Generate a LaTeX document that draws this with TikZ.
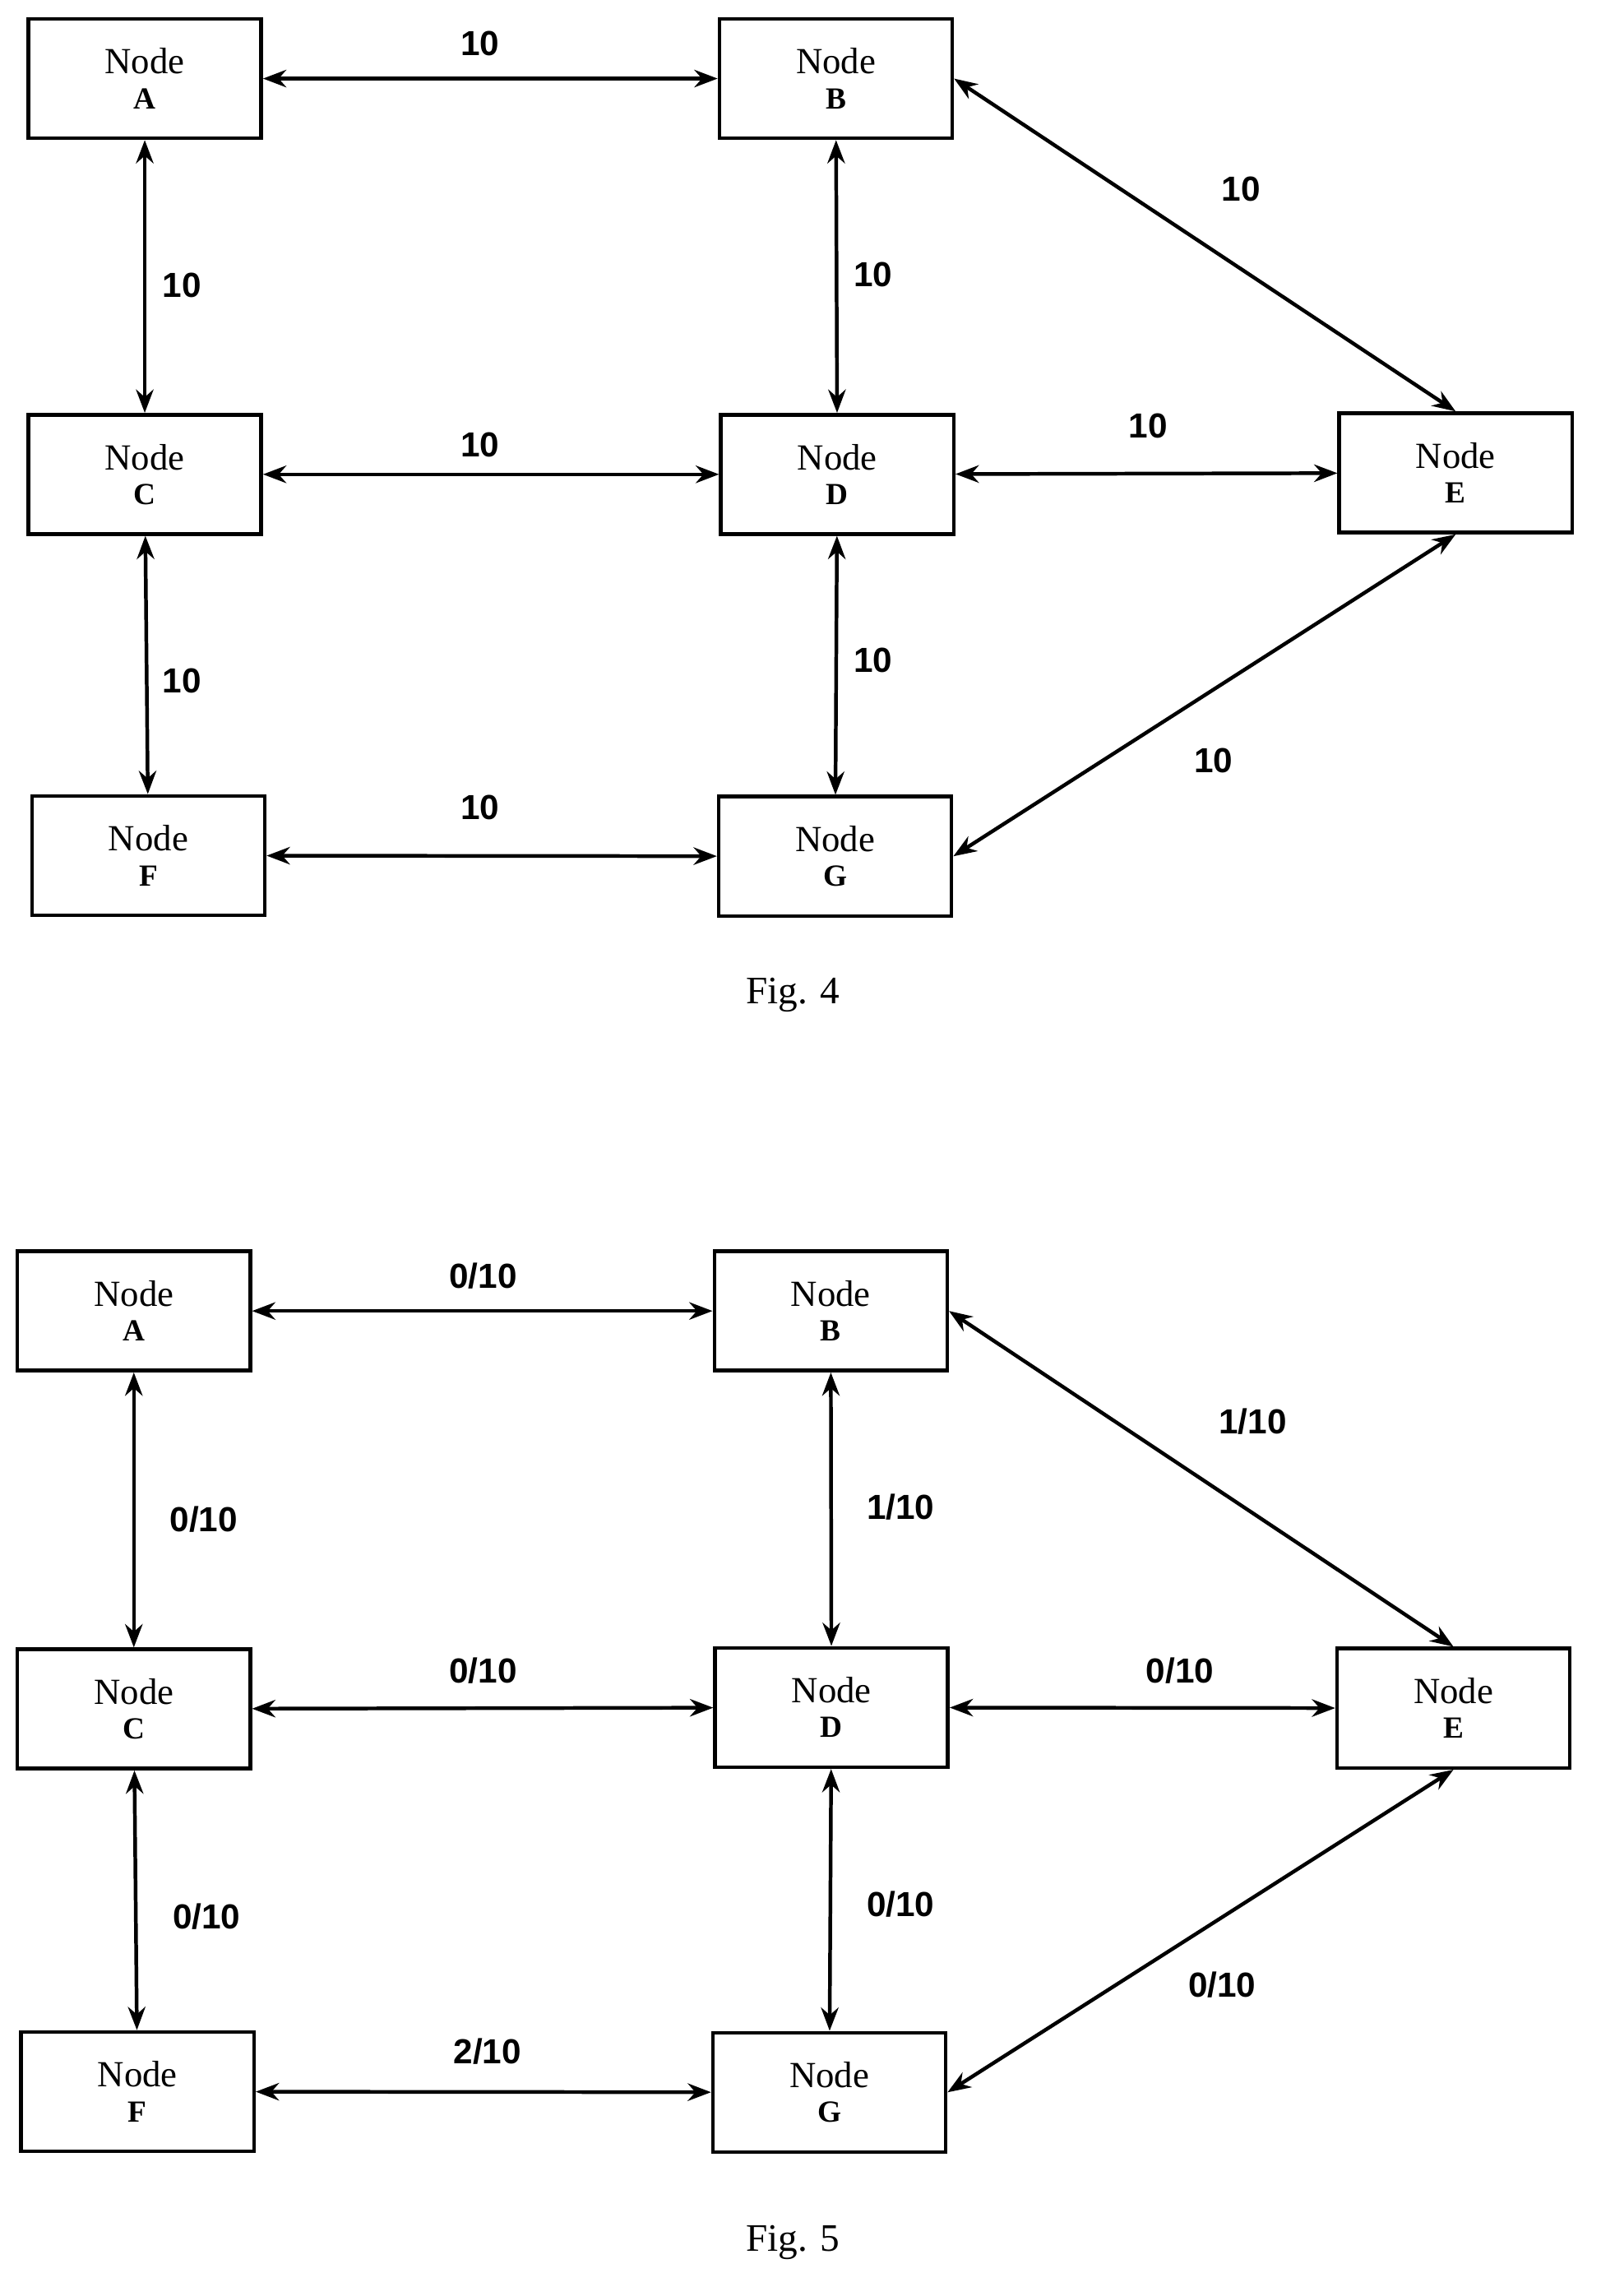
\documentclass[tikz,border=0pt]{standalone}
\usepackage{fontspec}
\setmainfont{Liberation Serif}
\newfontfamily\lblfont{Liberation Sans}
\usetikzlibrary{arrows.meta,positioning}

\begin{document}
\begin{tikzpicture}[
    x=0.05cm, y=-0.05cm,
    box/.style={draw, line width=3.6pt, minimum width=8cm, minimum height=4.1cm, align=center, inner sep=0pt, font=\fontsize{36}{38}\selectfont},
    arr/.style={{Stealth[length=8mm,width=6mm]}-{Stealth[length=8mm,width=6mm]}, line width=3.6pt},
    lbl/.style={font=\lblfont\bfseries\fontsize{34}{36}\selectfont},
    figcap/.style={font=\fontsize{38}{40}\selectfont},
]
\useasboundingbox (0,0) rectangle (1100,1578);

% Fig. 4
\node[box] (a4) at (99.5,54) {Node\\[-4pt]{\fontsize{30}{30}\selectfont\bfseries A}};
\node[box] (b4) at (574.5,54) {Node\\[-4pt]{\fontsize{30}{30}\selectfont\bfseries B}};
\node[box] (c4) at (99.5,326) {Node\\[-4pt]{\fontsize{30}{30}\selectfont\bfseries C}};
\node[box] (d4) at (575.5,326) {Node\\[-4pt]{\fontsize{30}{30}\selectfont\bfseries D}};
\node[box] (e4) at (1000.5,325) {Node\\[-4pt]{\fontsize{30}{30}\selectfont\bfseries E}};
\node[box] (f4) at (102,588) {Node\\[-4pt]{\fontsize{30}{30}\selectfont\bfseries F}};
\node[box] (g4) at (574,588.5) {Node\\[-4pt]{\fontsize{30}{30}\selectfont\bfseries G}};

\draw[arr] (a4) -- (b4);
\draw[arr] (a4) -- (c4);
\draw[arr] (b4) -- (d4);
\draw[arr] (b4.east) -- (e4.north);
\draw[arr] (c4) -- (d4);
\draw[arr] (d4) -- (e4);
\draw[arr] (c4) -- (f4);
\draw[arr] (d4) -- (g4);
\draw[arr] (e4.south) -- (g4.east);
\draw[arr] (f4) -- (g4);

\node[lbl] (l4ab) at (330,30) {10};
\node[lbl] (l4ac) at (125,196) {10};
\node[lbl] (l4bd) at (600,189) {10};
\node[lbl] (l4be) at (853,130) {10};
\node[lbl] (l4cd) at (330,306) {10};
\node[lbl] (l4de) at (789,293) {10};
\node[lbl] (l4cf) at (125,468) {10};
\node[lbl] (l4dg) at (600,454) {10};
\node[lbl] (l4eg) at (834,523) {10};
\node[lbl] (l4fg) at (330,555) {10};
\node[figcap] (fig4) at (545,684) {Fig. 4};

% Fig. 5
\node[box] (a5) at (92,901) {Node\\[-4pt]{\fontsize{30}{30}\selectfont\bfseries A}};
\node[box] (b5) at (571,901) {Node\\[-4pt]{\fontsize{30}{30}\selectfont\bfseries B}};
\node[box] (c5) at (92,1174.5) {Node\\[-4pt]{\fontsize{30}{30}\selectfont\bfseries C}};
\node[box] (d5) at (571.5,1173.5) {Node\\[-4pt]{\fontsize{30}{30}\selectfont\bfseries D}};
\node[box] (e5) at (999,1174) {Node\\[-4pt]{\fontsize{30}{30}\selectfont\bfseries E}};
\node[box] (f5) at (94.5,1437.5) {Node\\[-4pt]{\fontsize{30}{30}\selectfont\bfseries F}};
\node[box] (g5) at (570,1438) {Node\\[-4pt]{\fontsize{30}{30}\selectfont\bfseries G}};

\draw[arr] (a5) -- (b5);
\draw[arr] (a5) -- (c5);
\draw[arr] (b5) -- (d5);
\draw[arr] (b5.east) -- (e5.north);
\draw[arr] (c5) -- (d5);
\draw[arr] (d5) -- (e5);
\draw[arr] (c5) -- (f5);
\draw[arr] (d5) -- (g5);
\draw[arr] (e5.south) -- (g5.east);
\draw[arr] (f5) -- (g5);

\node[lbl] (l5ab) at (332,877) {0/10};
\node[lbl] (l5ac) at (140,1044) {0/10};
\node[lbl] (l5bd) at (619,1036) {1/10};
\node[lbl] (l5be) at (861,977) {1/10};
\node[lbl] (l5cd) at (332,1148) {0/10};
\node[lbl] (l5de) at (811,1148) {0/10};
\node[lbl] (l5cf) at (142,1317) {0/10};
\node[lbl] (l5dg) at (619,1309) {0/10};
\node[lbl] (l5eg) at (840,1364) {0/10};
\node[lbl] (l5fg) at (335,1410) {2/10};
\node[figcap] (fig5) at (545,1541) {Fig. 5};
\end{tikzpicture}
\end{document}
